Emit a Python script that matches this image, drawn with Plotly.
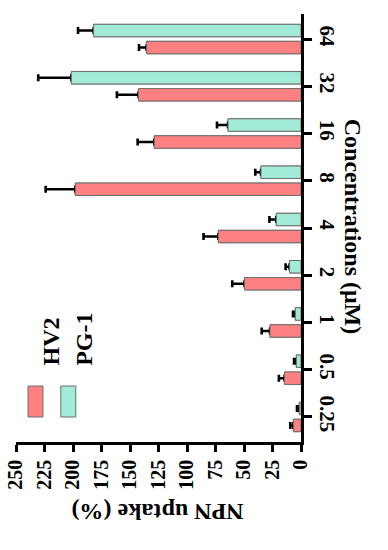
import plotly.graph_objects as go

# ---- data ----
concentrations = ["0.25", "0.5", "1", "2", "4", "8", "16", "32", "64"]
hv2_uptake = [6.7, 14.4, 27.2, 49.5, 72.5, 198.0, 128.7, 142.5, 135.4]
hv2_err = [2.7, 5.0, 7.3, 10.8, 13.0, 26.0, 14.6, 19.0, 6.7]
pg1_uptake = [1.5, 4.1, 5.0, 10.0, 21.7, 35.1, 64.0, 201.5, 181.9]
pg1_err = [2.0, 2.0, 2.0, 3.5, 6.0, 5.0, 9.7, 29.0, 13.7]
value_ticks = [0, 25, 50, 75, 100, 125, 150, 175, 200, 225, 250]
series_names = ["HV2", "PG-1"]

RED = "#FF8080"
TEAL = "#A1EBD8"
EDGE = "#6E6E6E"
FONT = "Liberation Serif"

W, H = 388, 550
PL, PR, PT, PB = 15.7, 300.7, 14.0, 442.0  # plot area in window pixels


def px(x):
    return (x - PL) / (PR - PL)


def py(y):
    return (PB - y) / (PB - PT)


fig = go.Figure()


def bar_trace(vals, errs, color, group, with_err):
    return go.Bar(
        x=vals,
        y=concentrations,
        orientation="h",
        offsetgroup=group,
        marker=dict(color=color, line=dict(color=EDGE, width=1)),
        error_x=dict(
            type="data",
            array=errs,
            arrayminus=[0] * len(errs),
            symmetric=False,
            color="black",
            thickness=2.6,
            width=3.5,
            visible=with_err,
        ),
        showlegend=False,
        hoverinfo="x+y",
    )


# bars with error bars, then the same bars on top to hide inner caps
fig.add_trace(bar_trace(hv2_uptake, hv2_err, RED, "a", True))
fig.add_trace(bar_trace(pg1_uptake, pg1_err, TEAL, "b", True))
fig.add_trace(bar_trace(hv2_uptake, hv2_err, RED, "a", False))
fig.add_trace(bar_trace(pg1_uptake, pg1_err, TEAL, "b", False))

fig.update_layout(
    width=W,
    height=H,
    margin=dict(l=PL, r=W - PR, t=PT, b=H - PB, pad=0, autoexpand=False),
    paper_bgcolor="white",
    plot_bgcolor="white",
    barmode="group",
    bargap=0.28,
    bargroupgap=0.27,
    font=dict(family=FONT, color="black", size=20, weight="bold"),
    xaxis=dict(
        range=[250, 0],
        tickvals=value_ticks,
        ticktext=[str(v) for v in value_ticks],
        tickangle=-90,
        ticks="outside",
        ticklen=7,
        tickwidth=2.5,
        tickcolor="black",
        showline=True,
        linecolor="black",
        linewidth=2.6,
        showgrid=False,
        zeroline=False,
        automargin=False,
        ticklabeloverflow="allow",
        tickfont=dict(family=FONT, size=20, color="black", weight="bold"),
    ),
    yaxis=dict(
        type="category",
        side="right",
        range=[-0.53, 8.53],
        tickangle=90,
        ticks="outside",
        ticklen=8,
        tickwidth=2.5,
        tickcolor="black",
        showline=True,
        linecolor="black",
        linewidth=2.6,
        showgrid=False,
        zeroline=False,
        automargin=False,
        ticklabeloverflow="allow",
        tickfont=dict(family=FONT, size=21, color="black", weight="bold"),
    ),
)

# axis titles
fig.add_annotation(
    text="Concentrations (μM)", xref="paper", yref="paper",
    x=px(368), y=py(227), textangle=90, showarrow=False,
    font=dict(family=FONT, size=24, color="black", weight="bold"),
)
fig.add_annotation(
    text="NPN uptake (%)", xref="paper", yref="paper",
    x=px(157), y=py(527), textangle=180, showarrow=False,
    font=dict(family=FONT, size=24, color="black", weight="bold"),
)

# legend (rotated)
legend_items = [(series_names[0], RED, 35.2), (series_names[1], TEAL, 68.0)]
for name, color, cx in legend_items:
    fig.add_shape(
        type="rect", xref="paper", yref="paper",
        x0=px(cx - 7.5), x1=px(cx + 7.5), y0=py(417), y1=py(386),
        fillcolor=color, line=dict(color=EDGE, width=1),
    )
    fig.add_annotation(
        text=name, xref="paper", yref="paper",
        x=px(cx), y=py(368), yanchor="bottom", textangle=-90, showarrow=False,
        font=dict(family=FONT, size=24, color="black", weight="bold"),
    )

fig.write_html(
    "out.html",
    config={"displayModeBar": False},
    post_script="document.body.style.margin='0';document.body.style.overflow='hidden';",
)
